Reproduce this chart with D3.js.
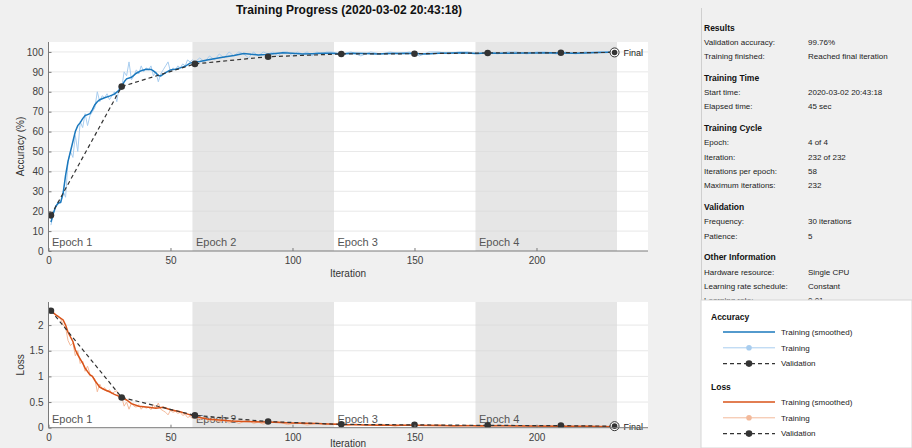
<!DOCTYPE html>
<html>
<head>
<meta charset="utf-8">
<script src="https://cdn.jsdelivr.net/npm/d3@7"></script>
<style>
  body { margin: 0; background: #f0f0f0; }
  svg { display: block; font-family: "Liberation Sans", Arial, sans-serif; }
</style>
</head>
<body>
<svg id="chart" width="912" height="448"></svg>
<script>
// values
var epochEdges = [0, 59, 117, 175, 233]
var epochNames = ["Epoch 1", "Epoch 2", "Epoch 3", "Epoch 4"]

var accRaw = [[1,13],[2,19],[3,22],[4,25],[5,24],[6,30],[7,27],[8,45],[9,50],[10,47],[11,58],[12,50],[13,65],[14,62],[15,69],[16,63],[17,68],[18,70],[19,72],[20,80],[21,75],[22,78],[23,77],[24,79],[25,76],[26,78],[27,80],[28,75],[29,83],[30,82],[31,90],[32,88],[33,95],[34,86],[35,88],[36,91],[37,89],[38,93],[39,90],[40,92],[41,91],[42,93],[43,88],[44,90],[45,85],[46,89],[47,91],[48,93],[49,95],[50,90],[51,92],[52,91],[53,93],[54,92],[55,94],[56,93],[57,96],[58,95],[59,96],[60,95],
  [62,97],[64,95],[66,98],[68,96],[70,99],[72,97],[74,100],[76,98],[78,100],[80,99],[82,97],[84,100],[86,98],[88,100],[90,99],[92,100],[94,98],[96,100],[98,100],[100,98],[102,100],[104,99],[106,100],[108,98],[110,100],[112,99],[114,100],[116,100],[120,99],[124,100],[128,98],[132,100],[136,99],[140,100],[144,99],[148,100],[152,98],[156,100],[160,100],[164,99],[168,100],[172,100],[176,99],[180,100],[184,99],[188,100],[192,100],[196,99],[200,100],[204,100],[208,99],[212,100],[216,99],[220,100],[224,100],[228,100],[232,100]]

var accSmooth = [[1,14.5],[2,19],[3,22.5],[4,24],[5,24.5],[6,29],[7,38],[8,45],[9,50],[10,55],[11,60],[12,63],[13,64.5],[14,66.5],[15,68],[16,68.5],[17,69],[18,71],[19,73.5],[20,75],[21,76],[23,77],[25,77.8],[27,78.8],[29,80.8],[30,82.5],[31,85],[32,86.5],[34,87.3],[36,89.3],[38,90.6],[40,91.3],[42,91.2],[43,90.5],[44,89.5],[45,88.2],[46,88],[48,89.6],[50,91],[52,91.3],[54,92],[56,92.8],[58,94.4],[60,95],[62,95.2],[65,96],[69,96.8],[72,97.5],[76,98.2],[80,99.2],[83,98.8],[86,98.5],[89,98.7],[92,99.1],[96,99.6],[100,99.3],[104,99],[108,99.1],[112,99.3],[116,99.3],[120,99],[125,99.3],[130,99.2],[135,99],[140,99.2],[145,99.4],[150,99.2],[155,99],[160,99.3],[165,99.5],[170,99.6],[175,99.2],[180,99.5],[185,99.3],[190,99.4],[195,99.5],[200,99.5],[205,99.6],[210,99.5],[215,99.3],[220,99.5],[225,99.7],[230,99.8],[232,99.8]]

var accVal = [[1,17.9],[30,82.6],[60,94],[90,97.6],[120,99],[150,99.1],[180,99.5],[210,99.6],[232,99.76]]

var lossRaw = [[1,2.3],[2,2.25],[3,2.2],[4,2.18],[5,2.12],[6,2.0],[7,1.95],[8,1.7],[9,1.6],[10,1.65],[11,1.4],[12,1.5],[13,1.25],[14,1.3],[15,1.1],[16,1.2],[17,1.05],[18,1.0],[19,0.95],[20,0.7],[21,0.85],[22,0.75],[23,0.78],[24,0.7],[25,0.74],[26,0.66],[27,0.7],[28,0.72],[29,0.55],[30,0.6],[31,0.42],[32,0.5],[33,0.36],[34,0.48],[35,0.42],[36,0.4],[37,0.45],[38,0.36],[39,0.42],[40,0.38],[41,0.4],[42,0.35],[43,0.45],[44,0.38],[45,0.48],[46,0.36],[47,0.33],[48,0.3],[49,0.25],[50,0.34],[51,0.3],[52,0.32],[53,0.28],[54,0.3],[55,0.24],[56,0.26],[57,0.2],[58,0.22],[59,0.18],[60,0.2],
  [62,0.15],[64,0.2],[66,0.12],[68,0.17],[70,0.11],[72,0.15],[74,0.09],[76,0.13],[78,0.08],[80,0.12],[82,0.15],[84,0.08],[86,0.11],[88,0.07],[90,0.1],[94,0.12],[98,0.06],[102,0.1],[106,0.05],[110,0.09],[114,0.06],[118,0.08],[122,0.04],[126,0.07],[130,0.05],[136,0.07],[142,0.03],[148,0.06],[154,0.04],[160,0.06],[166,0.03],[172,0.05],[178,0.02],[184,0.05],[190,0.03],[196,0.04],[202,0.02],[208,0.04],[214,0.02],[220,0.03],[226,0.02],[232,0.02]]

var lossSmooth = [[1,2.28],[3,2.2],[6,2.1],[7,2.0],[8,1.86],[10,1.68],[11,1.52],[12,1.42],[14,1.26],[15,1.16],[17,1.03],[18,1.0],[19,0.92],[21,0.79],[23,0.74],[25,0.7],[27,0.65],[29,0.61],[32,0.54],[34,0.47],[37,0.42],[41,0.4],[44,0.38],[47,0.4],[50,0.35],[54,0.31],[58,0.25],[61,0.21],[65,0.17],[70,0.15],[75,0.13],[80,0.12],[90,0.11],[100,0.09],[110,0.08],[120,0.06],[135,0.05],[150,0.05],[165,0.04],[180,0.04],[195,0.035],[210,0.03],[220,0.03],[232,0.02]]

var lossVal = [[1,2.28],[30,0.59],[60,0.24],[90,0.12],[120,0.065],[150,0.055],[180,0.045],[210,0.04],[232,0.03]]

var accTicks = [0,10,20,30,40,50,60,70,80,90,100]
var lossTicks = [0, 0.5, 1, 1.5, 2]
var iterTicks = [0, 50, 100, 150, 200]

var infoTitles = ["Results", "Training Time", "Training Cycle", "Validation", "Other Information"]
var infoRows = [
  [["Validation accuracy:", "99.76%"], ["Training finished:", "Reached final iteration"]],
  [["Start time:", "2020-03-02 20:43:18"], ["Elapsed time:", "45 sec"]],
  [["Epoch:", "4 of 4"], ["Iteration:", "232 of 232"], ["Iterations per epoch:", "58"], ["Maximum iterations:", "232"]],
  [["Frequency:", "30 iterations"], ["Patience:", "5"]],
  [["Hardware resource:", "Single CPU"], ["Learning rate schedule:", "Constant"], ["Learning rate:", "0.01"]]
]

var svg = d3.select("#chart")
var blue = "#1a78bd", lightBlue = "#a8cdef"
var orange = "#d95319", lightOrange = "#f3b99a"
var valColor = "#333333"

svg.append("text")
    .attr("x", 349).attr("y", 14)
    .attr("text-anchor", "middle")
    .style("font-size", "12px").style("font-weight", "bold").style("fill", "#111")
    .text("Training Progress (2020-03-02 20:43:18)")

var x = d3.scaleLinear().domain([0, 245.7]).range([48.5, 648])

function drawPanel(id, top, bottom, yMax, ticks, raw, smooth, val, colors, yLabel, fmt) {
    var y = d3.scaleLinear().domain([0, yMax]).range([bottom, top])
    var g = svg.append("g").attr("class", id)

    g.append("clipPath").attr("id", "clip-" + id)
        .append("rect").attr("x", x(0)).attr("y", top).attr("width", x.range()[1] - x(0)).attr("height", bottom - top)

    g.append("rect").attr("x", x(0)).attr("y", top)
        .attr("width", x.range()[1] - x(0)).attr("height", bottom - top).style("fill", "#fff")

    g.selectAll("rect.band")
        .data(epochNames.map(function (n, i) { return i }).filter(function (i) { return i % 2 == 1 }))
        .enter().append("rect").attr("class", "band")
        .attr("x", function (i) { return x(epochEdges[i]) })
        .attr("width", function (i) { return x(epochEdges[i + 1]) - x(epochEdges[i]) })
        .attr("y", top).attr("height", bottom - top)
        .style("fill", "#e6e6e6")

    g.selectAll("line.grid").data(ticks.slice(1))
        .enter().append("line").attr("class", "grid")
        .attr("x1", x(0)).attr("x2", x.range()[1])
        .attr("y1", function (d) { return y(d) }).attr("y2", function (d) { return y(d) })
        .style("stroke", "#d9d9d9").style("stroke-opacity", 0.6)

    g.selectAll("text.epoch").data(epochNames)
        .enter().append("text").attr("class", "epoch")
        .attr("x", function (d, i) { return x(epochEdges[i]) + 3.5 })
        .attr("y", bottom - 5)
        .style("font-size", "11px").style("fill", "#555")
        .text(function (d) { return d })

    var line = d3.line().x(function (d) { return x(d[0]) }).y(function (d) { return y(d[1]) })
    var data = g.append("g").attr("clip-path", "url(#clip-" + id + ")")

    data.append("path").datum(raw).attr("d", line)
        .style("fill", "none").style("stroke", colors[1]).style("stroke-width", 1)
    data.append("path").datum(smooth).attr("d", line)
        .style("fill", "none").style("stroke", colors[0]).style("stroke-width", 1.5)
    data.append("path").datum(val).attr("d", line)
        .style("fill", "none").style("stroke", valColor).style("stroke-width", 1.2)
        .style("stroke-dasharray", "4,3")
    data.selectAll("circle.val").data(val.slice(0, -1))
        .enter().append("circle").attr("class", "val")
        .attr("cx", function (d) { return x(d[0]) }).attr("cy", function (d) { return y(d[1]) })
        .attr("r", 3.3).style("fill", valColor)

    var last = val[val.length - 1]
    g.append("circle").attr("cx", x(last[0])).attr("cy", y(last[1])).attr("r", 4.5)
        .style("fill", "#fff").style("stroke", valColor).style("stroke-width", 1)
    g.append("circle").attr("cx", x(last[0])).attr("cy", y(last[1])).attr("r", 2.8).style("fill", valColor)
    g.append("text").attr("x", x(last[0]) + 9).attr("y", y(last[1]) + 3.5)
        .style("font-size", "9px").style("fill", "#222").text("Final")

    var xAxis = g.append("g").attr("transform", "translate(0," + bottom + ")")
        .call(d3.axisBottom(x).tickValues(iterTicks).tickSize(-3).tickPadding(6).tickSizeOuter(0))
    var yAxis = g.append("g").attr("transform", "translate(" + x(0) + ",0)")
        .call(d3.axisLeft(y).tickValues(ticks).tickFormat(fmt).tickSize(-3).tickPadding(5).tickSizeOuter(0))
    ;[xAxis, yAxis].forEach(function (a) {
        a.select(".domain").style("stroke", "#7a7a7a")
        a.selectAll(".tick line").style("stroke", "#7a7a7a")
        a.selectAll(".tick text").style("font-size", "10px").style("fill", "#404040")
            .style("font-family", "'Liberation Sans', Arial, sans-serif")
    })
    yAxis.select(".domain").attr("d", "M0," + bottom + "V" + top)
    xAxis.select(".domain").attr("d", "M" + x(0) + ",0H" + x.range()[1])

    g.append("text").attr("transform", "translate(24," + ((top + bottom) / 2) + ") rotate(-90)")
        .attr("text-anchor", "middle").style("font-size", "10px").style("fill", "#333").text(yLabel)
    g.append("text").attr("x", 348).attr("y", Math.min(bottom + 26, 447))
        .attr("text-anchor", "middle").style("font-size", "10px").style("fill", "#333").text("Iteration")
}

drawPanel("acc", 42, 251, 105, accTicks, accRaw, accSmooth, accVal, [blue, lightBlue], "Accuracy (%)", d3.format("d"))
drawPanel("loss", 302, 427.7, 2.45, lossTicks, lossRaw, lossSmooth, lossVal, [orange, lightOrange], "Loss", function (d) { return String(d) })

// info panel
var info = svg.append("g")
info.append("line").attr("x1", 701.5).attr("x2", 701.5).attr("y1", 8).attr("y2", 448)
    .style("stroke", "#cfcfcf")
var yy = 27.7
infoTitles.forEach(function (t, i) {
    info.append("text").attr("x", 704).attr("y", yy).attr("dy", "0.35em")
        .style("font-size", "8.5px").style("font-weight", "bold").style("fill", "#111").text(t)
    infoRows[i].forEach(function (r) {
        yy += 14.3
        info.append("text").attr("x", 704).attr("y", yy).attr("dy", "0.35em")
            .style("font-size", "8px").style("fill", "#222").text(r[0])
        info.append("text").attr("x", 808).attr("y", yy).attr("dy", "0.35em")
            .style("font-size", "8px").style("fill", "#222").text(r[1])
    })
    yy += 21.7
})

// legend box
var leg = svg.append("g")
leg.append("rect").attr("x", 701).attr("y", 300).attr("width", 211).attr("height", 148)
    .style("fill", "#fff").style("stroke", "#d6d6d6")
var legGroups = [["Accuracy", 317, [blue, lightBlue]], ["Loss", 387, [orange, lightOrange]]]
var legItems = ["Training (smoothed)", "Training", "Validation"]
legGroups.forEach(function (grp) {
    leg.append("text").attr("x", 711).attr("y", grp[1]).attr("dy", "0.35em")
        .style("font-size", "8.5px").style("font-weight", "bold").style("fill", "#111").text(grp[0])
    legItems.forEach(function (name, i) {
        var ly = grp[1] + 15 + i * 15.8
        var l = leg.append("line").attr("x1", 723).attr("x2", 775).attr("y1", ly).attr("y2", ly)
        if (i == 0) l.style("stroke", grp[2][0]).style("stroke-width", 1.5)
        if (i == 1) {
            l.style("stroke", grp[2][1]).style("stroke-width", 1)
            leg.append("circle").attr("cx", 749).attr("cy", ly).attr("r", 2.8).style("fill", grp[2][1])
        }
        if (i == 2) {
            l.style("stroke", valColor).style("stroke-width", 1.2).style("stroke-dasharray", "4,3")
            leg.append("circle").attr("cx", 749).attr("cy", ly).attr("r", 3.3).style("fill", valColor)
        }
        leg.append("text").attr("x", 781).attr("y", ly).attr("dy", "0.35em")
            .style("font-size", "8px").style("fill", "#222").text(name)
    })
})
</script>
</body>
</html>
